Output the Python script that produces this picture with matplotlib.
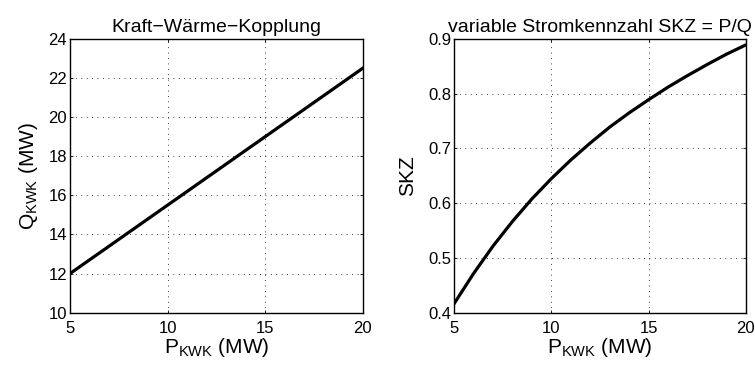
import matplotlib
matplotlib.use("Agg")
import matplotlib.pyplot as plt

# Electrical output of the CHP unit (MW)
p_kwk = [5, 6, 7, 8, 9, 10, 11, 12, 13, 14, 15, 16, 17, 18, 19, 20]
# Heat output (MW)
q_kwk = [12.0, 12.7, 13.4, 14.1, 14.8, 15.5, 16.2, 16.9, 17.6, 18.3,
         19.0, 19.7, 20.4, 21.1, 21.8, 22.5]
# Power-to-heat ratio
skz = [0.417, 0.472, 0.522, 0.567, 0.608, 0.645, 0.679, 0.710, 0.739,
       0.765, 0.789, 0.812, 0.833, 0.853, 0.872, 0.889]

x_ticks = [5, 10, 15, 20]
q_ticks = [10, 12, 14, 16, 18, 20, 22, 24]
skz_ticks = [0.4, 0.5, 0.6, 0.7, 0.8, 0.9]

plt.rcParams["font.family"] = ["Liberation Sans", "DejaVu Sans"]
plt.rcParams["mathtext.fontset"] = "custom"
plt.rcParams["mathtext.rm"] = "Liberation Sans"
plt.rcParams["mathtext.it"] = "Liberation Sans"

fig = plt.figure(figsize=(7.55, 3.65), dpi=100)
ax1 = fig.add_axes([0.0927, 0.1433, 0.3877, 0.750])
ax2 = fig.add_axes([0.6017, 0.1433, 0.3860, 0.750])

grid_style = dict(color="black", linestyle=(0, (1, 5.5)), linewidth=0.6)


def style(ax, yticks, ylim):
    ax.set_xlim(5, 20)
    ax.set_ylim(*ylim)
    ax.set_xticks(x_ticks)
    ax.set_yticks(yticks)
    ax.grid(True, **grid_style)
    ax.tick_params(direction="in", length=2, width=0.6, labelsize=12,
                   top=True, right=True, pad=2)
    ax.tick_params(axis="x", pad=6)
    for s in ax.spines.values():
        s.set_linewidth(1.0)


ax1.plot(p_kwk, q_kwk, color="black", linewidth=2.3)
style(ax1, q_ticks, (10, 24))
ax1.set_yticklabels([str(v) for v in q_ticks])
ax1.set_title("Kraft\u2212W\u00e4rme\u2212Kopplung", fontsize=14, pad=5)
ax1.set_xlabel(r"$\mathregular{P_{KWK}}$ (MW)", fontsize=15, labelpad=0)
ax1.set_ylabel(r"$\mathregular{Q_{KWK}}$ (MW)", fontsize=15, labelpad=6)

ax2.plot(p_kwk, skz, color="black", linewidth=2.3)
style(ax2, skz_ticks, (0.4, 0.9))
ax2.set_yticklabels([f"{v:.1f}" for v in skz_ticks])
ax2.set_title("variable Stromkennzahl SKZ = P/Q", fontsize=14, pad=5)
ax2.set_xlabel(r"$\mathregular{P_{KWK}}$ (MW)", fontsize=15, labelpad=0)
ax2.set_ylabel("SKZ", fontsize=15, labelpad=8)

fig.savefig("out.png", dpi=100)
